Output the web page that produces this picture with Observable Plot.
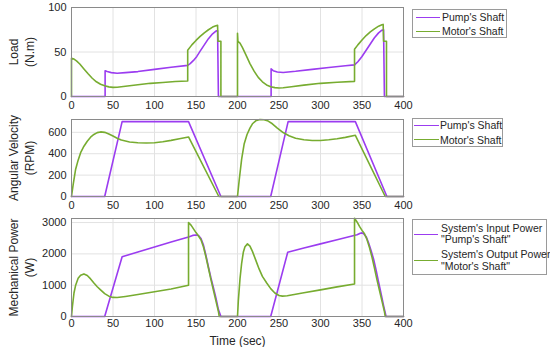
<!DOCTYPE html>
<html>
<head>
<meta charset="utf-8">
<script src="https://cdn.jsdelivr.net/npm/d3@7"></script>
<script src="https://cdn.jsdelivr.net/npm/@observablehq/plot@0.6"></script>
<style>
  html, body { margin: 0; padding: 0; background: #fff; }
  #root { position: relative; width: 550px; height: 347px; font-family: "Liberation Sans", Arial, sans-serif; color: #262626; }
  #root svg { position: absolute; left: 0; overflow: visible; }
  .leg { position: absolute; border: 1px solid #9a9a9a; background: #fff; box-sizing: border-box; }
  .sw { position: absolute; height: 0; border-top: 1.6px solid; }
  .lt { position: absolute; font-size: 10.5px; line-height: 12px; white-space: nowrap; color: #262626; }
</style>
</head>
<body>
<div id="root"></div>
<script>
// ---- data (time in sec, value) ----
const xTicks = [0, 50, 100, 150, 200, 250, 300, 350, 400];
const loadTicks = [0, 50, 100];
const speedTicks = [0, 200, 400, 600];
const powerTicks = [0, 1000, 2000, 3000];

const loadPump = [[0,0],[40.5,0],[40.5,29],[43,28],[48,26.8],[55,26.2],[65,26.8],[80,28],[100,30.5],[120,32.8],[140,35],[143,37],[147,40.5],[151,45],[155,51],[160,58],[165,65],[170,70.5],[174,73.5],[176,74],[177,0],[240.5,0],[240.5,31],[243,29],[248,27.5],[255,27],[270,28.3],[290,30.5],[310,32.5],[330,34.5],[341,35.5],[345,39],[350,45],[355,52],[360,59],[365,66],[370,71.5],[374,74.5],[376,75],[377,0],[400,0]];
const loadMotor = [[0,0],[0,43],[3,42],[6,40],[10,36.5],[15,31],[20,25.5],[25,20.5],[30,16.5],[35,13.8],[40,12],[45,10.8],[50,10.3],[55,10.4],[65,11.5],[80,13.2],[95,14.8],[110,15.8],[125,16.8],[140,17.5],[140,52],[145,58],[150,63],[155,67.5],[160,71.5],[165,75],[170,78],[174,79.5],[176,80],[176.5,62],[180,62],[180,0],[200,0],[200,71],[200.5,62],[203,60],[206,55],[210,47],[215,37],[220,28.5],[225,21.5],[230,16.5],[235,13],[240,11],[245,10],[250,9.6],[255,9.8],[265,11],[280,12.8],[300,14.8],[320,16],[341,17],[341,53],[345,58],[350,63.5],[355,68.5],[360,72.5],[365,76],[370,79],[374,80.5],[375.5,81],[376,62],[379.5,62],[379.5,0],[400,0]];

const speedPump = [[0,0],[40,0],[61,700],[141,700],[180,0],[240,0],[261,700],[342,700],[380,0],[400,0]];
const speedMotor = [[0,0],[2,110],[5,255],[8,340],[11,410],[15,470],[19,517],[23,555],[27,580],[31,597],[35,604],[40,600],[45,585],[50,565],[55,545],[60,528],[70,510],[80,502],[90,500],[100,503],[110,512],[120,525],[130,540],[141,557],[177.5,0],[200,0],[202,150],[205,350],[208,490],[211.5,580],[215,640],[218,680],[222,708],[227,720],[232,718],[237,705],[242,680],[248,640],[255,598],[262,568],[270,545],[280,530],[290,523],[300,524],[310,530],[320,540],[330,553],[342,572],[378,0],[400,0]];

const powerPump = [[0,0],[40,0],[61,1910],[80,2060],[100,2220],[120,2380],[141,2540],[146,2590],[150,2605],[153,2585],[156,2490],[159,2280],[162,1950],[165,1580],[168,1230],[171,920],[174,590],[177,220],[180,0],[240,0],[260.5,2050],[280,2190],[300,2320],[320,2450],[344,2610],[348,2660],[350,2670],[352,2640],[355,2550],[358,2350],[361,2100],[364,1830],[367,1480],[370,1100],[373,730],[376,350],[379,0],[400,0]];
const powerMotor = [[0,0],[1,300],[3,750],[5,1000],[8,1220],[11,1320],[15,1360],[19,1310],[23,1200],[27,1070],[31,950],[35,850],[40,730],[45,650],[50,610],[55,605],[65,640],[80,700],[100,790],[120,880],[141,1000],[141,3000],[144,2920],[147,2800],[150,2680],[153,2570],[156,2450],[159,2220],[162,1900],[165,1540],[168,1180],[171,840],[174,500],[177,160],[178,0],[200,0],[201,500],[203,1200],[205,1700],[207,2050],[209,2230],[212,2320],[215,2250],[218,2080],[222,1800],[226,1520],[230,1280],[235,1080],[240,890],[245,750],[250,670],[254,650],[260,665],[280,760],[300,850],[320,945],[341,1040],[341,3140],[344,3020],[347,2880],[350,2750],[353,2640],[356,2460],[359,2200],[362,1900],[365,1550],[368,1180],[371,840],[374,500],[377,160],[378,0],[400,0]];

const purple = "#9b3cf0";
const green = "#77ac30";

function panel({pump, motor, yDomain, yTicks, height, marginTop, marginBottom, label, xLabel, tickPad = 5}) {
  const marks = [
    Plot.gridX(xTicks, {stroke: "#e2e2e2", strokeOpacity: 1}),
    Plot.gridY(yTicks, {stroke: "#e2e2e2", strokeOpacity: 1}),
    Plot.line(pump, {x: d => d[0], y: d => d[1], stroke: purple, strokeWidth: 1.6}),
    Plot.line(motor, {x: d => d[0], y: d => d[1], stroke: green, strokeWidth: 1.6}),
    Plot.frame({stroke: "#8a8a8a"}),
    Plot.text([label], {frameAnchor: "left", textAnchor: "middle", lineAnchor: "middle", rotate: -90, dx: -51, fontSize: 12, lineHeight: 1.35, fill: "#262626"})
  ];
  if (xLabel) marks.push(Plot.text([xLabel], {frameAnchor: "bottom", textAnchor: "middle", lineAnchor: "middle", dy: 25, fontSize: 12, fill: "#262626"}));
  return Plot.plot({
    width: 550, height, marginLeft: 71, marginRight: 147, marginTop, marginBottom,
    style: {fontFamily: "Liberation Sans, Arial, sans-serif", fontSize: "11px", color: "#262626", background: "transparent", overflow: "visible"},
    x: {domain: [0, 400], ticks: xTicks, tickFormat: d => String(d), tickSize: 0, tickPadding: tickPad, label: null},
    y: {domain: yDomain, ticks: yTicks, tickFormat: d => String(d), tickSize: 0, tickPadding: 5, label: null},
    marks
  });
}

const root = document.getElementById("root");
const p1 = panel({pump: loadPump, motor: loadMotor, yDomain: [0, 100], yTicks: loadTicks, height: 112, marginTop: 7, marginBottom: 16, label: "Load\n(N.m)"});
p1.style.top = "0px";
const p2 = panel({pump: speedPump, motor: speedMotor, yDomain: [0, 720], yTicks: speedTicks, height: 100, marginTop: 7, marginBottom: 16, label: "Angular Velocity\n(RPM)"});
p2.style.top = "112px";
const p3 = panel({pump: powerPump, motor: powerMotor, yDomain: [0, 3130], yTicks: powerTicks, height: 135, marginTop: 6, marginBottom: 31, label: "Mechanical Power\n(W)", xLabel: "Time (sec)", tickPad: 3});
p3.style.top = "212px";
root.append(p1, p2, p3);

function el(cls, css, text) {
  const d = document.createElement("div");
  d.className = cls;
  Object.assign(d.style, css);
  if (text) d.textContent = text;
  root.append(d);
  return d;
}
// legend 1
el("leg", {left: "412px", top: "9px", width: "95px", height: "29px"});
el("sw", {left: "416px", top: "17px", width: "24px", borderColor: purple});
el("sw", {left: "416px", top: "31px", width: "24px", borderColor: green});
el("lt", {left: "442px", top: "11px"}, "Pump's Shaft");
el("lt", {left: "442px", top: "25px"}, "Motor's Shaft");
// legend 2
el("leg", {left: "412px", top: "118px", width: "91px", height: "29px"});
el("sw", {left: "414px", top: "125px", width: "25px", borderColor: purple});
el("sw", {left: "414px", top: "139px", width: "25px", borderColor: green});
el("lt", {left: "440px", top: "119px"}, "Pump's Shaft");
el("lt", {left: "440px", top: "134px"}, "Motor's Shaft");
// legend 3
el("leg", {left: "412px", top: "219px", width: "135px", height: "56px"});
el("sw", {left: "414px", top: "234px", width: "24px", borderColor: purple});
el("sw", {left: "414px", top: "260px", width: "24px", borderColor: green});
el("lt", {left: "441px", top: "222px"}, "System's Input Power");
el("lt", {left: "441px", top: "233px"}, " \"Pump's Shaft\"");
el("lt", {left: "441px", top: "248px"}, "System's Output Power");
el("lt", {left: "441px", top: "260px"}, " \"Motor's Shaft\"");
</script>
</body>
</html>
